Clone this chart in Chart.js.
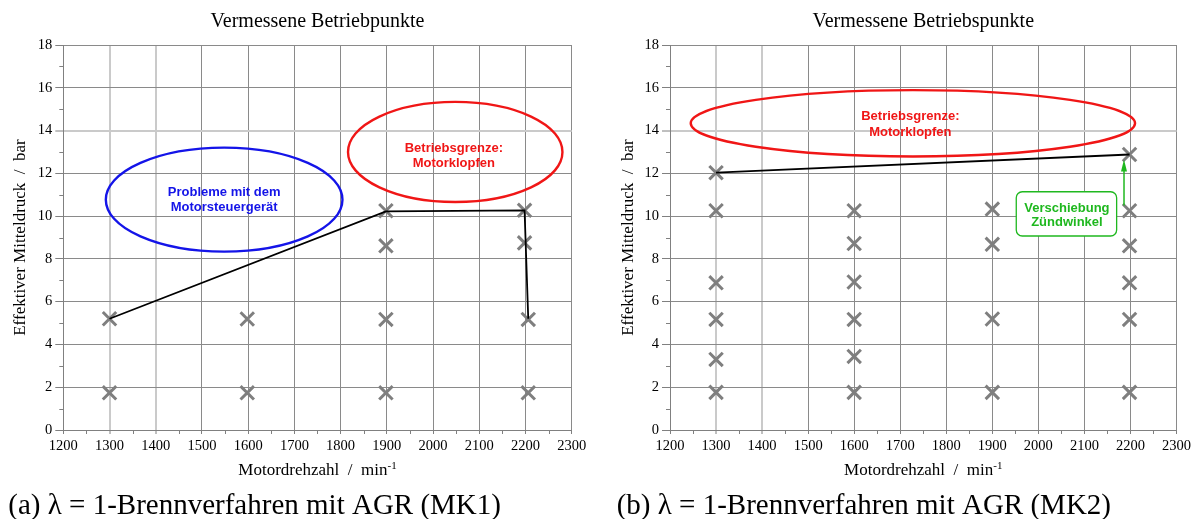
<!DOCTYPE html>
<html>
<head>
<meta charset="utf-8">
<script src="https://cdn.jsdelivr.net/npm/chart.js@4.4.1/dist/chart.umd.min.js"></script>
<style>
  html, body { margin: 0; padding: 0; background: #ffffff; }
  #wrap { display: flex; width: 1194px; height: 519px; }
  canvas { display: block; }
</style>
</head>
<body>
<div id="wrap">
  <canvas id="mk1" width="597" height="519"></canvas>
  <canvas id="mk2" width="597" height="519"></canvas>
</div>
<script>
// Achsen: Motordrehzahl (min-1) und effektiver Mitteldruck (bar)
const speedTicks = [1200, 1300, 1400, 1500, 1600, 1700, 1800, 1900, 2000, 2100, 2200, 2300];
const pressureTicks = [0, 2, 4, 6, 8, 10, 12, 14, 16, 18];

// MK1: vermessene Betriebspunkte
const mk1Speed    = [1300, 1300, 1598, 1598, 1898, 1898, 1898, 1898, 2198, 2198, 2206, 2206];
const mk1Pressure = [5.2,  1.74, 5.19, 1.74, 10.25, 8.61, 5.17, 1.74, 10.27, 8.75, 5.17, 1.74];
// MK1: Volllastlinie
const mk1LimitSpeed    = [1300, 1898, 2198, 2206];
const mk1LimitPressure = [5.2, 10.22, 10.27, 5.2];

// MK2: vermessene Betriebspunkte
const mk2Speed    = [1300, 1300, 1300, 1300, 1300, 1300,
                     1600, 1600, 1600, 1600, 1600, 1600,
                     1900, 1900, 1900, 1900,
                     2198, 2198, 2198, 2198, 2198, 2198];
const mk2Pressure = [12.03, 10.25, 6.88, 5.17, 3.30, 1.76,
                     10.25, 8.72, 6.92, 5.17, 3.44, 1.76,
                     10.33, 8.68, 5.19, 1.76,
                     12.88, 10.25, 8.61, 6.88, 5.17, 1.76];
// MK2: Volllastlinie
const mk2LimitSpeed    = [1300, 2198];
const mk2LimitPressure = [12.03, 12.88];

// Hellere Gitterlinien
const softGridSpeeds = [1300, 1400];
const softGridPressures = [14];

const BLUE = '#1414e8';
const RED = '#f01616';
const GREEN = '#1fb81f';
const SERIF = '"Liberation Serif", "Times New Roman", serif';
const SANS = '"Liberation Sans", Arial, sans-serif';

const mk1Notes = {
  ellipses: [
    { x: 1548, y: 10.77, rx: 256, ry: 2.43, color: BLUE },
    { x: 2048, y: 13.0, rx: 232, ry: 2.34, color: RED }
  ],
  labels: [
    { x: 1548, y: 10.78, lines: ['Probleme mit dem', 'Motorsteuergerät'], color: BLUE, lineHeight: 15 },
    { x: 2045, y: 12.81, lines: ['Betriebsgrenze:', 'Motorklopfen'], color: RED, lineHeight: 15 }
  ],
  boxes: [],
  arrows: []
};

const mk2Notes = {
  ellipses: [
    { x: 1727.5, y: 14.34, rx: 482.5, ry: 1.55, color: RED }
  ],
  labels: [
    { x: 1722, y: 14.28, lines: ['Betriebsgrenze:', 'Motorklopfen'], color: RED, lineHeight: 15.6 },
    { x: 2062, y: 10.02, lines: ['Verschiebung', 'Zündwinkel'], color: GREEN, lineHeight: 14.4 }
  ],
  boxes: [
    { x0: 1952, x1: 2170, y0: 9.07, y1: 11.14, color: GREEN }
  ],
  arrows: [
    { x: 2186, from: 10.5, to: 12.65, color: GREEN }
  ]
};

function toPoints(xs, ys) {
  return xs.map((x, i) => ({ x: x, y: ys[i] }));
}

// Titel, Achsbeschriftungen, Nebenstriche, Bildunterschrift und Markierungen
const figurePlugin = {
  id: 'figure',
  afterDatasetsDraw(chart, args, o) {
    const ctx = chart.ctx;
    const xs = chart.scales.x, ys = chart.scales.y;
    const notes = o.notes;
    ctx.save();
    notes.ellipses.forEach(e => {
      const cx = xs.getPixelForValue(e.x), cy = ys.getPixelForValue(e.y);
      const rx = Math.abs(xs.getPixelForValue(e.x + e.rx) - cx);
      const ry = Math.abs(ys.getPixelForValue(e.y + e.ry) - cy);
      ctx.beginPath();
      ctx.ellipse(cx, cy, rx, ry, 0, 0, Math.PI * 2);
      ctx.strokeStyle = e.color;
      ctx.lineWidth = 2.4;
      ctx.stroke();
    });
    notes.boxes.forEach(b => {
      const x0 = xs.getPixelForValue(b.x0), x1 = xs.getPixelForValue(b.x1);
      const y0 = ys.getPixelForValue(b.y1), y1 = ys.getPixelForValue(b.y0);
      ctx.beginPath();
      ctx.roundRect(x0, y0, x1 - x0, y1 - y0, 6);
      ctx.fillStyle = '#ffffff';
      ctx.fill();
      ctx.strokeStyle = b.color;
      ctx.lineWidth = 1.3;
      ctx.stroke();
    });
    notes.arrows.forEach(a => {
      const x = xs.getPixelForValue(a.x);
      const yb = ys.getPixelForValue(a.from), yt = ys.getPixelForValue(a.to);
      ctx.strokeStyle = a.color;
      ctx.fillStyle = a.color;
      ctx.lineWidth = 1.5;
      ctx.beginPath();
      ctx.moveTo(x, yb);
      ctx.lineTo(x, yt + 10);
      ctx.stroke();
      ctx.beginPath();
      ctx.moveTo(x, yt);
      ctx.lineTo(x - 3, yt + 12);
      ctx.lineTo(x + 3, yt + 12);
      ctx.closePath();
      ctx.fill();
    });
    ctx.font = 'bold 13px ' + SANS;
    ctx.textAlign = 'center';
    ctx.textBaseline = 'middle';
    notes.labels.forEach(l => {
      const cx = xs.getPixelForValue(l.x), cy = ys.getPixelForValue(l.y);
      const top = cy - (l.lines.length - 1) * l.lineHeight / 2;
      ctx.fillStyle = l.color;
      l.lines.forEach((t, i) => ctx.fillText(t, cx, top + i * l.lineHeight));
    });
    ctx.restore();
  },
  afterDraw(chart, args, o) {
    const ctx = chart.ctx;
    const area = chart.chartArea;
    const xs = chart.scales.x, ys = chart.scales.y;
    ctx.save();

    // Nebenstriche
    ctx.strokeStyle = '#808080';
    ctx.lineWidth = 1;
    ctx.beginPath();
    for (let v = pressureTicks[0] + 1; v < pressureTicks[pressureTicks.length - 1]; v += 2) {
      const y = Math.round(ys.getPixelForValue(v)) + 0.5;
      ctx.moveTo(area.left - 4, y);
      ctx.lineTo(area.left, y);
    }
    for (let v = speedTicks[0] + 50; v < speedTicks[speedTicks.length - 1]; v += 100) {
      const x = Math.round(xs.getPixelForValue(v)) + 0.5;
      ctx.moveTo(x, area.bottom);
      ctx.lineTo(x, area.bottom + 4);
    }
    ctx.stroke();

    const midX = (area.left + area.right) / 2;
    const midY = (area.top + area.bottom) / 2;
    ctx.fillStyle = '#000000';

    // Diagrammtitel
    ctx.font = '20px ' + SERIF;
    ctx.textAlign = 'center';
    ctx.textBaseline = 'alphabetic';
    ctx.fillText(o.title, midX, 26.7);

    // x-Achsentitel mit hochgestelltem Exponenten
    ctx.font = '17px ' + SERIF;
    const base = o.xTitle;
    const wBase = ctx.measureText(base).width;
    ctx.font = '11px ' + SERIF;
    const wSup = ctx.measureText(o.xTitleSup).width;
    const x0 = midX - (wBase + wSup) / 2;
    ctx.textAlign = 'left';
    ctx.font = '17px ' + SERIF;
    ctx.fillText(base, x0, 475);
    ctx.font = '11px ' + SERIF;
    ctx.fillText(o.xTitleSup, x0 + wBase, 469);

    // y-Achsentitel
    ctx.save();
    ctx.translate(o.yTitleX, midY);
    ctx.rotate(-Math.PI / 2);
    ctx.font = '17px ' + SERIF;
    ctx.textAlign = 'center';
    ctx.textBaseline = 'alphabetic';
    ctx.fillText(o.yTitle, 0, 0);
    ctx.restore();

    // Bildunterschrift
    ctx.font = '29px ' + SERIF;
    ctx.textAlign = 'left';
    ctx.textBaseline = 'alphabetic';
    ctx.fillText(o.caption, o.captionX, 514);

    ctx.restore();
  }
};

function softSpeed(c) { return c.tick && softGridSpeeds.includes(c.tick.value); }
function softPressure(c) { return c.tick && softGridPressures.includes(c.tick.value); }

function makeChart(id, points, limit, notes, layout, texts) {
  return new Chart(document.getElementById(id), {
    type: 'scatter',
    data: {
      datasets: [
        {
          label: 'Volllast',
          data: limit,
          showLine: true,
          borderColor: '#000000',
          borderWidth: 1.8,
          pointRadius: 0,
          tension: 0
        },
        {
          label: 'Betriebspunkte',
          data: points,
          pointStyle: 'crossRot',
          pointRadius: 9.5,
          borderWidth: 3,
          borderColor: '#7f7f7f',
          backgroundColor: '#7f7f7f'
        }
      ]
    },
    options: {
      responsive: false,
      animation: false,
      devicePixelRatio: 1,
      events: [],
      layout: { padding: { left: 0, right: layout.right, top: 45, bottom: 0 } },
      plugins: {
        legend: { display: false },
        title: { display: false },
        tooltip: { enabled: false },
        figure: Object.assign({ notes: notes }, texts)
      },
      scales: {
        x: {
          type: 'linear',
          min: speedTicks[0],
          max: speedTicks[speedTicks.length - 1],
          afterBuildTicks: s => { s.ticks = speedTicks.map(v => ({ value: v })); },
          afterFit: s => { s.height = 89; },
          border: { color: '#808080', width: 1 },
          grid: {
            color: c => softSpeed(c) ? '#cacaca' : '#8a8a8a',
            lineWidth: c => softSpeed(c) ? 2 : 1,
            tickColor: '#808080',
            tickWidth: 1,
            tickLength: 4
          },
          ticks: {
            font: { family: SERIF, size: 14.5 },
            color: '#000000',
            padding: 3,
            maxRotation: 0,
            autoSkip: false,
            callback: v => String(v)
          }
        },
        y: {
          type: 'linear',
          min: pressureTicks[0],
          max: pressureTicks[pressureTicks.length - 1],
          afterBuildTicks: s => { s.ticks = pressureTicks.map(v => ({ value: v })); },
          afterFit: s => { s.width = layout.yWidth; },
          border: { color: '#808080', width: 1 },
          grid: {
            color: c => softPressure(c) ? '#cacaca' : '#8a8a8a',
            lineWidth: c => softPressure(c) ? 2 : 1,
            tickColor: '#808080',
            tickWidth: 1,
            tickLength: 8
          },
          ticks: {
            font: { family: SERIF, size: 14.5 },
            color: '#000000',
            padding: 3,
            autoSkip: false,
            callback: v => String(v)
          }
        }
      }
    },
    plugins: [figurePlugin]
  });
}

makeChart('mk1',
  toPoints(mk1Speed, mk1Pressure),
  toPoints(mk1LimitSpeed, mk1LimitPressure),
  mk1Notes,
  { yWidth: 63.3, right: 25.3 },
  {
    title: 'Vermessene Betriebpunkte',
    xTitle: 'Motordrehzahl  /  min',
    xTitleSup: '-1',
    yTitle: 'Effektiver Mitteldruck  /  bar',
    yTitleX: 25,
    caption: '(a) λ = 1-Brennverfahren mit AGR (MK1)',
    captionX: 8.3
  });

makeChart('mk2',
  toPoints(mk2Speed, mk2Pressure),
  toPoints(mk2LimitSpeed, mk2LimitPressure),
  mk2Notes,
  { yWidth: 73, right: 15.7 },
  {
    title: 'Vermessene Betriebspunkte',
    xTitle: 'Motordrehzahl  /  min',
    xTitleSup: '-1',
    yTitle: 'Effektiver Mitteldruck  /  bar',
    yTitleX: 36.3,
    caption: '(b) λ = 1-Brennverfahren mit AGR (MK2)',
    captionX: 19.7
  });
</script>
</body>
</html>
